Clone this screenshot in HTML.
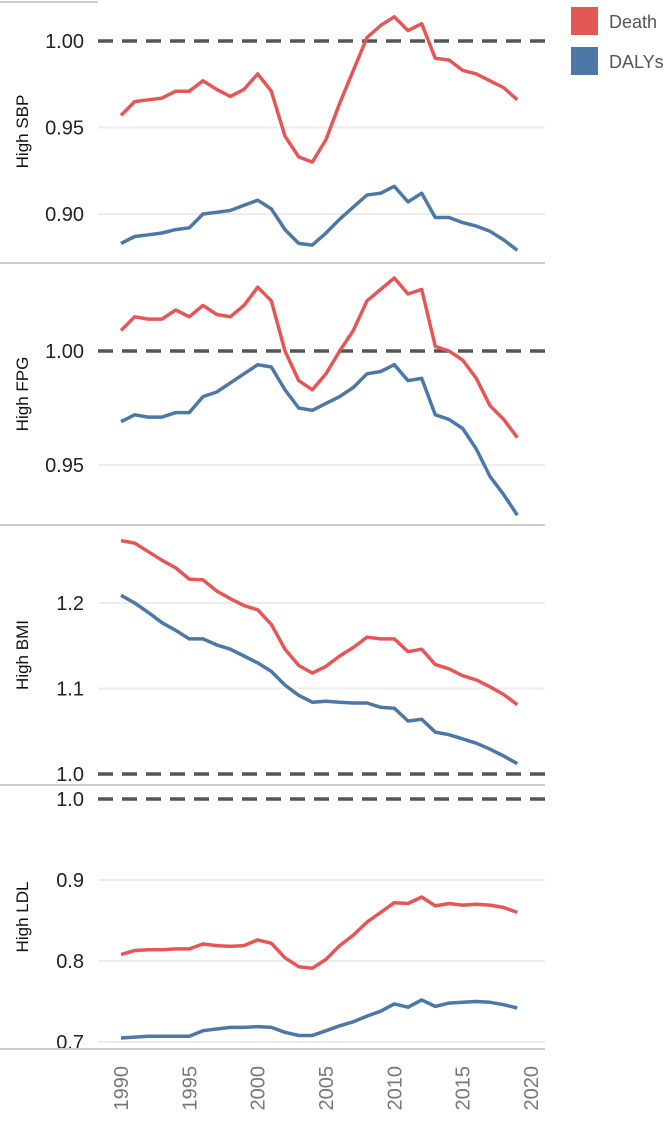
<!DOCTYPE html>
<html><head><meta charset="utf-8"><style>
body{margin:0;background:#fff;}
svg{display:block;font-family:"Liberation Sans",sans-serif;}
</style></head><body>
<svg id="chart" width="666" height="1141" viewBox="0 0 666 1141"></svg>
<script>
const years=[1990,1991,1992,1993,1994,1995,1996,1997,1998,1999,2000,2001,2002,2003,2004,2005,2006,2007,2008,2009,2010,2011,2012,2013,2014,2015,2016,2017,2018,2019];
const xTicks=[1990,1995,2000,2005,2010,2015,2020];
const sbpDeath=[0.957,0.965,0.966,0.967,0.971,0.971,0.977,0.972,0.968,0.972,0.981,0.971,0.945,0.933,0.930,0.943,0.964,0.983,1.002,1.009,1.014,1.006,1.010,0.990,0.989,0.983,0.981,0.977,0.973,0.966];
const sbpDalys=[0.883,0.887,0.888,0.889,0.891,0.892,0.900,0.901,0.902,0.905,0.908,0.903,0.891,0.883,0.882,0.889,0.897,0.904,0.911,0.912,0.916,0.907,0.912,0.898,0.898,0.895,0.893,0.890,0.885,0.879];
const fpgDeath=[1.009,1.015,1.014,1.014,1.018,1.015,1.020,1.016,1.015,1.020,1.028,1.022,1.000,0.987,0.983,0.990,1.000,1.009,1.022,1.027,1.032,1.025,1.027,1.002,1.000,0.996,0.988,0.976,0.970,0.962];
const fpgDalys=[0.969,0.972,0.971,0.971,0.973,0.973,0.980,0.982,0.986,0.990,0.994,0.993,0.983,0.975,0.974,0.977,0.980,0.984,0.990,0.991,0.994,0.987,0.988,0.972,0.970,0.966,0.957,0.945,0.937,0.928];
const bmiDeath=[1.273,1.270,1.260,1.250,1.241,1.228,1.227,1.214,1.205,1.197,1.192,1.175,1.146,1.127,1.118,1.126,1.138,1.148,1.160,1.158,1.158,1.143,1.146,1.128,1.123,1.115,1.110,1.102,1.093,1.081];
const bmiDalys=[1.209,1.200,1.189,1.177,1.168,1.158,1.158,1.151,1.146,1.138,1.130,1.120,1.104,1.092,1.084,1.085,1.084,1.083,1.083,1.078,1.077,1.062,1.064,1.049,1.046,1.041,1.036,1.029,1.021,1.012];
const ldlDeath=[0.808,0.813,0.814,0.814,0.815,0.815,0.821,0.819,0.818,0.819,0.826,0.822,0.804,0.793,0.791,0.802,0.819,0.832,0.848,0.860,0.872,0.871,0.879,0.868,0.871,0.869,0.870,0.869,0.866,0.860];
const ldlDalys=[0.705,0.706,0.707,0.707,0.707,0.707,0.714,0.716,0.718,0.718,0.719,0.718,0.712,0.708,0.708,0.714,0.720,0.725,0.732,0.738,0.747,0.743,0.752,0.744,0.748,0.749,0.750,0.749,0.746,0.742];
const sbpTicks=["0.90","0.95","1.00"];
const fpgTicks=["0.95","1.00"];
const bmiTicks=["1.0","1.1","1.2"];
const ldlTicks=["0.7","0.8","0.9","1.0"];

const NS="http://www.w3.org/2000/svg";
const svg=document.getElementById('chart');
function mk(tag,attrs,parent){const e=document.createElementNS(NS,tag);for(const k in attrs)e.setAttribute(k,attrs[k]);(parent||svg).appendChild(e);return e;}
const X0=98,X1=545;
function xs(yr){return 121+(yr-1990)*(531-121)/30;}

const panels=[
 {key:'sbp',title:'High SBP',top:0,bottom:263,v0:1.00,y0:41,pxPer:1730,ticks:sbpTicks,death:sbpDeath,dalys:sbpDalys},
 {key:'fpg',title:'High FPG',top:263,bottom:525,v0:1.00,y0:351,pxPer:2280,ticks:fpgTicks,death:fpgDeath,dalys:fpgDalys},
 {key:'bmi',title:'High BMI',top:525,bottom:785,v0:1.0,y0:774,pxPer:855,ticks:bmiTicks,death:bmiDeath,dalys:bmiDalys},
 {key:'ldl',title:'High LDL',top:785,bottom:1049,v0:1.0,y0:799,pxPer:810,ticks:ldlTicks,death:ldlDeath,dalys:ldlDalys}
];
mk('line',{x1:0,y1:2,x2:X0,y2:2,stroke:'#ccc','stroke-width':2});
panels.forEach(p=>{
  const g=mk('g',{});
  
  
  const ys=v=>p.y0-(v-p.v0)*p.pxPer;
  p.ticks.forEach(t=>{
    const y=ys(parseFloat(t));
    if(Math.abs(parseFloat(t)-1)>1e-9){
      const gl=mk('line',{x1:X0,x2:X1,y1:y,y2:y,stroke:'#ececec','stroke-width':2},g);
      
      
    }
    const tx=mk('text',{x:84,y:y+7,'text-anchor':'end','font-size':20,fill:'#222'},g);
    tx.textContent=t;
    
    
  });
  const ref=mk('line',{x1:X0,x2:X1,y1:ys(1),y2:ys(1),stroke:'#555','stroke-width':3.5,'stroke-dasharray':'15 9'},g);
  
  
  const cy=(p.top+p.bottom)/2;
  const ttl=mk('text',{x:0,y:0,'text-anchor':'middle','font-size':17,fill:'#111',transform:`translate(28,${cy}) rotate(-90)`},g);
  ttl.textContent=p.title;
  
  
  [['death','#e45756'],['dalys','#4c78a8']].forEach(([s,c])=>{
    const d=p[s].map((v,i)=>(i?'L':'M')+xs(years[i]).toFixed(1)+','+ys(v).toFixed(1)).join('');
    const path=mk('path',{d:d,fill:'none',stroke:c,'stroke-width':3.5,'stroke-linejoin':'round'},g);
    
    
  });
  const ax=mk('line',{x1:0,x2:X1,y1:p.bottom,y2:p.bottom,stroke:'#ccc','stroke-width':2},g);
  
  
});
xTicks.forEach(t=>{
  const tx=mk('text',{x:0,y:0,'text-anchor':'end','font-size':20,fill:'#777',transform:`translate(${xs(t)+7},1066) rotate(-90)`});
  tx.textContent=t;
  
  
});
[['Death','#e45756',7],['DALYs','#4c78a8',47]].forEach(([n,c,y])=>{
  const r=mk('rect',{x:571,y:y,width:27,height:28,fill:c});
  
  
  const t=mk('text',{x:609,y:y+21,'font-size':18,fill:'#555'});
  t.textContent=n;
  
  
});
</script>
</body></html>
